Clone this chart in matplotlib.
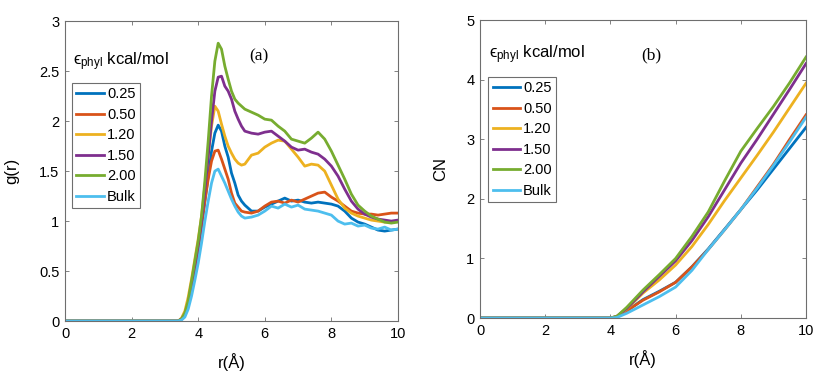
import numpy as np
import matplotlib
matplotlib.use("Agg")
import matplotlib.pyplot as plt

plt.rcParams['font.family'] = ['Liberation Sans', 'DejaVu Sans']
plt.rcParams['mathtext.fontset'] = 'custom'
plt.rcParams['mathtext.rm'] = 'Liberation Sans'
plt.rcParams['mathtext.it'] = 'Liberation Sans:italic'

labels = ['0.25', '0.50', '1.20', '1.50', '2.00', 'Bulk']
colors = ['#0072BD', '#D95319', '#EDB120', '#7E2F8E', '#77AC30', '#4DBEEE']

# radial distribution functions g(r)
r_g = [0, 3.4, 3.5, 3.6, 3.7, 3.8, 3.9, 4.0, 4.1, 4.2, 4.3, 4.4, 4.5, 4.6, 4.7, 4.8, 4.9,
       5.0, 5.1, 5.2, 5.3, 5.4, 5.6, 5.8, 6.0, 6.2, 6.4, 6.6, 6.8, 7.0, 7.2, 7.4, 7.6,
       7.8, 8.0, 8.2, 8.4, 8.6, 8.8, 9.0, 9.2, 9.4, 9.6, 9.8, 10.0]
g_025 = [0, 0, 0.02, 0.06, 0.16, 0.33, 0.52, 0.72, 0.95, 1.2, 1.45, 1.7, 1.88, 1.96, 1.9, 1.75, 1.64,
         1.48, 1.38, 1.26, 1.2, 1.16, 1.1, 1.1, 1.14, 1.17, 1.2, 1.23, 1.2, 1.21, 1.19, 1.18, 1.19,
         1.18, 1.17, 1.15, 1.1, 1.03, 0.99, 0.97, 0.94, 0.91, 0.9, 0.91, 0.92]
g_050 = [0, 0, 0.02, 0.07, 0.18, 0.35, 0.54, 0.74, 0.96, 1.2, 1.42, 1.6, 1.7, 1.71, 1.62, 1.52, 1.42,
         1.28, 1.18, 1.14, 1.1, 1.09, 1.08, 1.1, 1.15, 1.19, 1.2, 1.18, 1.21, 1.19, 1.22, 1.25, 1.28,
         1.29, 1.24, 1.2, 1.15, 1.1, 1.08, 1.07, 1.07, 1.06, 1.07, 1.08, 1.08]
g_120 = [0, 0, 0.03, 0.1, 0.24, 0.42, 0.62, 0.82, 1.05, 1.35, 1.65, 1.95, 2.15, 2.1, 1.97, 1.85, 1.75,
         1.68, 1.62, 1.58, 1.56, 1.57, 1.66, 1.68, 1.74, 1.78, 1.81, 1.8, 1.72, 1.64, 1.55, 1.57, 1.56,
         1.5, 1.36, 1.22, 1.13, 1.08, 1.05, 1.03, 1.01, 1.0, 0.99, 0.99, 1.0]
g_150 = [0, 0, 0.02, 0.07, 0.18, 0.37, 0.56, 0.76, 1.0, 1.3, 1.65, 2.0, 2.3, 2.44, 2.45, 2.35, 2.3,
         2.22, 2.1, 2.02, 1.95, 1.9, 1.88, 1.87, 1.89, 1.9, 1.85, 1.8, 1.74, 1.71, 1.72, 1.69, 1.67,
         1.62, 1.55, 1.45, 1.32, 1.2, 1.12, 1.07, 1.04, 1.02, 1.01, 1.0, 1.01]
g_200 = [0, 0, 0.02, 0.08, 0.2, 0.4, 0.6, 0.8, 1.05, 1.4, 1.8, 2.25, 2.6, 2.78, 2.72, 2.55, 2.42,
         2.3, 2.22, 2.18, 2.15, 2.12, 2.09, 2.06, 2.02, 2.01, 1.95, 1.9, 1.82, 1.8, 1.78, 1.83, 1.89,
         1.82, 1.7, 1.56, 1.42, 1.27, 1.16, 1.1, 1.05, 1.02, 0.99, 0.98, 0.99]
g_bulk = [0, 0, 0.01, 0.04, 0.12, 0.25, 0.41, 0.58, 0.78, 1.0, 1.2, 1.38, 1.5, 1.52, 1.45, 1.38, 1.3,
          1.22, 1.15, 1.09, 1.05, 1.03, 1.04, 1.06, 1.1, 1.15, 1.13, 1.17, 1.14, 1.16, 1.12, 1.11, 1.1,
          1.08, 1.06, 1.0, 0.97, 0.98, 0.95, 0.96, 0.93, 0.92, 0.94, 0.91, 0.92]

# coordination numbers CN(r)
r_cn = [0, 4.0, 4.2, 4.5, 5.0, 5.5, 6.0, 6.5, 7.0, 7.5, 8.0, 8.5, 9.0, 9.5, 10.0]
cn_025 = [0, 0, 0.02, 0.12, 0.31, 0.45, 0.6, 0.86, 1.16, 1.49, 1.82, 2.15, 2.5, 2.85, 3.2]
cn_050 = [0, 0, 0.02, 0.12, 0.3, 0.44, 0.6, 0.86, 1.15, 1.48, 1.82, 2.2, 2.58, 3.0, 3.41]
cn_120 = [0, 0, 0.03, 0.15, 0.42, 0.64, 0.89, 1.2, 1.57, 1.97, 2.35, 2.73, 3.12, 3.53, 3.94]
cn_150 = [0, 0, 0.03, 0.16, 0.44, 0.7, 0.96, 1.3, 1.7, 2.15, 2.6, 3.0, 3.42, 3.84, 4.27]
cn_200 = [0, 0, 0.03, 0.18, 0.47, 0.73, 1.0, 1.37, 1.78, 2.3, 2.8, 3.18, 3.55, 3.95, 4.38]
cn_bulk = [0, 0, 0.01, 0.08, 0.22, 0.36, 0.52, 0.8, 1.15, 1.48, 1.82, 2.18, 2.56, 2.96, 3.37]

g_all = [g_025, g_050, g_120, g_150, g_200, g_bulk]
cn_all = [cn_025, cn_050, cn_120, cn_150, cn_200, cn_bulk]

fig = plt.figure(figsize=(8.14, 3.72), dpi=100)
ax1 = fig.add_axes([0.0799, 0.137, 0.409, 0.806])
ax2 = fig.add_axes([0.5897, 0.145, 0.4005, 0.801])

for ys, lab, c in zip(g_all, labels, colors):
    ax1.plot(r_g, ys, color=c, lw=2, label=lab)
for ys, lab, c in zip(cn_all, labels, colors):
    ax2.plot(r_cn, ys, color=c, lw=2, label=lab)

axcol = '#6e6e6e'
for ax in (ax1, ax2):
    ax.set_xlim(0, 10)
    ax.set_xticks([0, 2, 4, 6, 8, 10])
    ax.tick_params(direction='in', length=3, width=0.6, color=axcol, labelsize=10.5,
                   top=True, right=True, pad=4)
    for s in ax.spines.values():
        s.set_color(axcol)
        s.set_linewidth(0.8)
    ax.yaxis.set_major_formatter(matplotlib.ticker.FormatStrFormatter('%g'))
    ax.set_xlabel('r(Å)', fontsize=12, labelpad=9)

ax1.set_ylim(0, 3)
ax1.set_yticks([0, 0.5, 1, 1.5, 2, 2.5, 3])
ax1.set_ylabel('g(r)', fontsize=12, labelpad=14)
ax2.set_ylim(0, 5)
ax2.set_yticks([0, 1, 2, 3, 4, 5])
ax2.set_ylabel('CN', fontsize=12, labelpad=13)

ax1.text(5.83, 2.65, '(a)', fontsize=12.5, family='Liberation Serif', ha='center', va='center')
ax2.text(5.25, 4.4, '(b)', fontsize=12.5, family='Liberation Serif', ha='center', va='center')

title = r'$\mathregular{\u03f5_{phyl}}$ kcal/mol'.replace(r'\u03f5', '\u03f5')
for ax, anchor, ty in ((ax1, (0.021, 0.795), 0.865), (ax2, (0.025, 0.81), 0.885)):
    leg = ax.legend(loc='upper left', bbox_to_anchor=anchor, fontsize=10.5,
                    handlelength=1.9, handletextpad=0.2, labelspacing=0.45,
                    borderpad=0.3, borderaxespad=0, fancybox=False, framealpha=1)
    leg.get_frame().set_edgecolor(axcol)
    leg.get_frame().set_linewidth(0.8)
    ax.text(anchor[0] + 0.003, ty, title, transform=ax.transAxes, fontsize=12,
            ha='left', va='center')

fig.savefig('out.png', dpi=100)
